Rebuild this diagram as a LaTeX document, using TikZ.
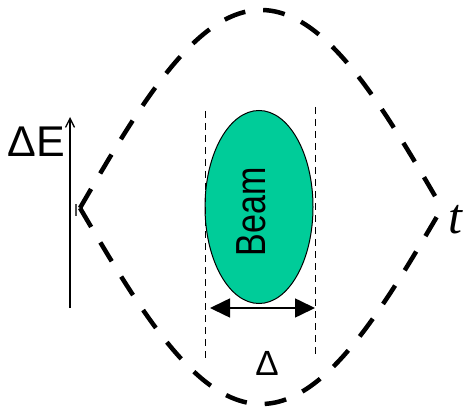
\documentclass[tikz,border=0pt]{standalone}
\usepackage{fontspec}
\setmainfont{Liberation Sans}
\newfontfamily\serifit{Liberation Serif}
\usetikzlibrary{arrows.meta,shapes.geometric}
\definecolor{beamgreen}{RGB}{0,204,153}
\tikzset{
  separatrix/.style={line width=4.5pt, dash pattern=on 22pt off 18pt},
  guide/.style={line width=1pt, dash pattern=on 7pt off 5pt},
  axisline/.style={line width=1.3pt, -{Straight Barb[length=9pt,width=9pt]}},
  widtharrow/.style={line width=1.6pt, {Triangle[length=20pt,width=19pt]}-{Triangle[length=20pt,width=19pt]}},
  label/.style={inner sep=0pt, outer sep=0pt}
}
\begin{document}
\begin{tikzpicture}[x=1pt,y=-1pt]
  \useasboundingbox (0,0) rectangle (463,414);

  % bucket boundary (separatrix)
  \draw[separatrix] plot[domain=-181:181, samples=90, smooth] ({\x+261}, {208 - 198*cos(\x/181*90)});
  \draw[separatrix] plot[domain=-181:181, samples=90, smooth] ({\x+261}, {208 + 196*cos(\x/181*90)});

  % energy axis
  \coordinate (axisbot) at (70,308);
  \coordinate (axistop) at (70,117);
  \draw[axisline] (axisbot) -- (axistop);
  \node[label] (dE) at (36,142) {\fontsize{43}{43}\selectfont ΔE};
  \coordinate (ticka) at (76,204);
  \coordinate (tickb) at (76,216);
  \draw[line width=1.5pt, black!70] (ticka) -- (tickb);

  % bunch
  \node[ellipse, draw=black, line width=1pt, fill=beamgreen,
        minimum width=108pt, minimum height=193pt, inner sep=0pt] (beam) at (259,207) {};
  \node[label, rotate=90] (beamtext) at (251,212)
        {\fontsize{42}{42}\selectfont\scalebox{0.81}[1]{Beam}};

  % bunch length markers
  \coordinate (lt) at (205,111);
  \coordinate (lb) at (205,362);
  \coordinate (rt) at (315,107);
  \coordinate (rb) at (315,357);
  \draw[guide] (lt) -- (lb);
  \draw[guide] (rt) -- (rb);
  \coordinate (al) at (210,308);
  \coordinate (ar) at (315,308);
  \draw[widtharrow] (al) -- (ar);
  \node[label] (delta) at (267,363) {\fontsize{35}{35}\selectfont Δ};

  % time axis label
  \node[label] (tlab) at (455,220) {\fontsize{50}{50}\selectfont\serifit\itshape t};
\end{tikzpicture}
\end{document}
